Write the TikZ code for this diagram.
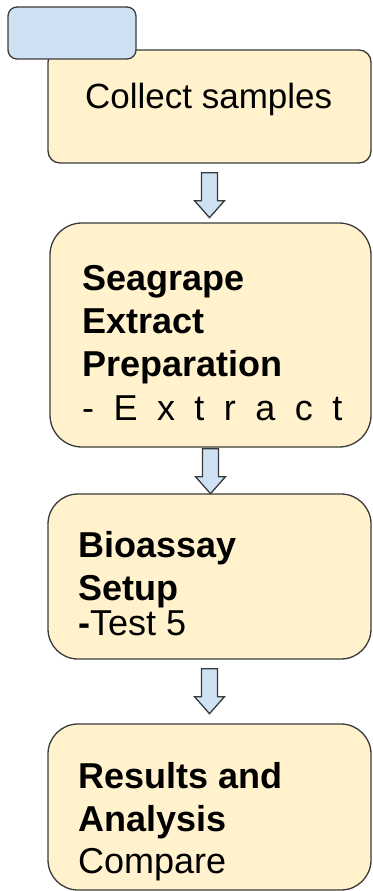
\documentclass[tikz,border=0pt]{standalone}
\usepackage{fontspec}
\setmainfont{Liberation Sans}
\usetikzlibrary{calc}

\definecolor{stepfill}{HTML}{FFF2CC}
\definecolor{tabfill}{HTML}{CFE2F3}
\definecolor{edgegray}{HTML}{3A3A3A}

\def\stepLeft{48}
\def\stepRight{371}
\def\shaftHalf{8}
\def\headHalf{15}
\def\shaftLength{28}
\def\headLength{17}

\tikzset{
    stepbox/.style = {draw = edgegray, fill = stepfill, line width = 1.3pt,
        rectangle, inner sep = 0pt},
    steptext/.style = {anchor = base west, inner sep = 0pt,
        font = \fontsize{36}{43}\selectfont},
    blockarrow/.style = {draw = edgegray, fill = tabfill, line width = 1.3pt,
        line join = miter},
}

%% block arrow below a box: node, gap
\newcommand{\stepArrow}[2]{
    \draw [blockarrow]
    ($(#1.south)+(-\shaftHalf,#2)$)
    -- ++(0,\shaftLength)
    -- ++({-\headHalf+\shaftHalf},0)
    -- ++(\headHalf,\headLength)
    -- ++(\headHalf,-\headLength)
    -- ++({-\headHalf+\shaftHalf},0)
    -- ++(0,-\shaftLength)
    -- cycle
    ;
}

\begin{document}
\begin{tikzpicture}[x = 1pt, y = -1pt]
    \useasboundingbox (0,0) rectangle (372,891);

    %% boxes
    \node [stepbox, rounded corners = 12pt,
        minimum width = 323pt, minimum height = 113pt]
        (collectbox) at (209.5,106.5) {};
    \node [draw = edgegray, fill = tabfill, line width = 1.3pt,
        rounded corners = 9pt, minimum width = 128pt, minimum height = 52pt]
        (tab) at (72,33) {};
    \node [stepbox, rounded corners = 32pt,
        minimum width = 321pt, minimum height = 224pt]
        (extractbox) at (210.5,335) {};
    \node [stepbox, rounded corners = 30pt,
        minimum width = 323pt, minimum height = 165pt]
        (bioassaybox) at (209.5,576.5) {};
    \node [stepbox, rounded corners = 30pt,
        minimum width = 323pt, minimum height = 166pt]
        (resultsbox) at (209.5,807) {};

    %% arrows
    \stepArrow{collectbox}{9}
    \stepArrow{extractbox}{1}
    \stepArrow{bioassaybox}{9}

    %% texts
    \node [steptext, font = \fontsize{35}{43}\selectfont]
        (collect) at (85,108) {Collect samples};

    \node [steptext] (seagrape) at (82,290.5) {\bfseries Seagrape};
    \node [steptext] (extractA) at (82,333) {\bfseries Extract};
    \node [steptext] (preparation) at (82,376) {\bfseries Preparation};
    \node [steptext] (extractB) at (82,420)
        {\spaceskip = 0.54em - E x t r a c t};

    \node [steptext] (bioassay) at (78,557) {\bfseries Bioassay};
    \node [steptext] (setup) at (78,600.5) {\bfseries Setup};
    \node [steptext] (test) at (78,635) {\textbf{-}Test 5};

    \node [steptext] (results) at (78,788) {\bfseries Results and};
    \node [steptext] (analysis) at (78,831.5) {\bfseries Analysis};
    \node [steptext] (compare) at (78,873) {Compare};
\end{tikzpicture}
\end{document}
